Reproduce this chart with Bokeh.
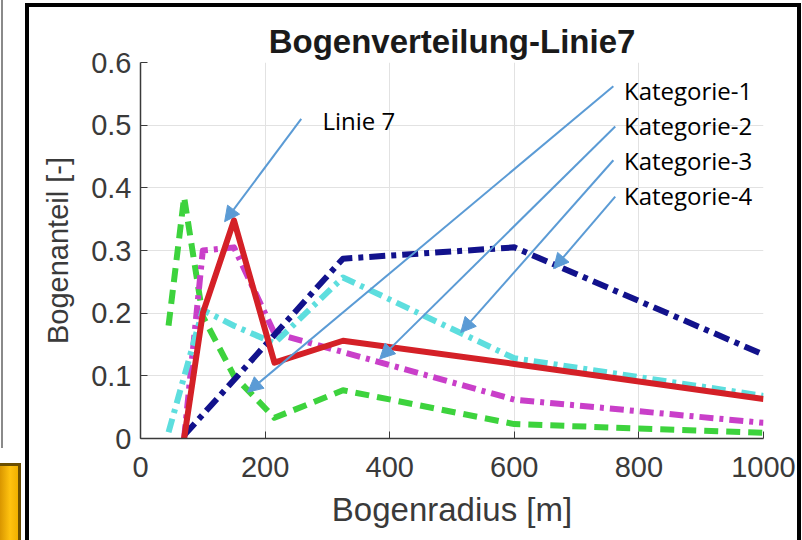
from bokeh.plotting import figure
from bokeh.models import Range1d, FixedTicker, Label, Arrow, NormalHead
from bokeh.embed import file_html
from bokeh.resources import INLINE

# ---------------- data ----------------
title_text = "Bogenverteilung-Linie7"
x_label = "Bogenradius [m]"
y_label = "Bogenanteil [-]"

radius = [45, 70, 100, 150, 215, 325, 600, 1000]
linie7 = [None, 0.0, 0.20, 0.348, 0.121, 0.156, 0.119, 0.063]
kategorie1 = [0.18, 0.385, 0.195, 0.10, 0.033, 0.077, 0.023, 0.009]
kategorie2 = [None, 0.0, 0.30, 0.305, 0.168, 0.138, 0.062, 0.025]
kategorie3 = [0.01, None, 0.205, 0.18, 0.152, 0.257, 0.128, 0.068]
kategorie4 = [None, 0.005, None, None, None, 0.287, 0.305, 0.134]

series_names = ["Linie 7", "Kategorie-1", "Kategorie-2", "Kategorie-3", "Kategorie-4"]

x_ticks = [0, 200, 400, 600, 800, 1000]
x_tick_labels = ["0", "200", "400", "600", "800", "1000"]
y_ticks = [0, 0.1, 0.2, 0.3, 0.4, 0.5, 0.6]
y_tick_labels = ["0", "0.1", "0.2", "0.3", "0.4", "0.5", "0.6"]

# ---------------- screenshot frame decorations (pure CSS, outside the plot) ----------------
frame_css = """
:host::after {
  content: "";
  position: absolute;
  left: 25px; top: 3px;
  width: 768px; height: 533px;
  border-left: 4px solid #000;
  border-top: 4px solid #000;
  border-right: 4px solid #000;
  pointer-events: none;
  z-index: 1000;
}
:host::before {
  content: "";
  position: absolute;
  left: 0; top: 0;
  width: 22px; height: 540px;
  background:
    linear-gradient(to right, #d99600, #ffc20f 55%, #f0b000) 0 466px / 18px 74px no-repeat,
    linear-gradient(#6b4e00, #6b4e00) 0 463px / 21px 77px no-repeat,
    linear-gradient(#8a8a8a, #8a8a8a) 1px 0 / 2px 448px no-repeat;
  pointer-events: none;
  z-index: 1000;
}
"""

# ---------------- figure ----------------
p = figure(width=802, height=540,
           x_range=Range1d(0, 1000), y_range=Range1d(0, 0.6),
           output_backend="svg", toolbar_location=None,
           min_border_left=140, min_border_right=39,
           min_border_top=62, min_border_bottom=102,
           stylesheets=[frame_css])
p.outline_line_color = None
p.background_fill_color = "white"
p.border_fill_color = "white"

axis_col = "#3a3a3a"
for ax in (p.xaxis[0], p.yaxis[0]):
    ax.major_tick_in = 7
    ax.major_tick_out = 0
    ax.minor_tick_line_color = None
    ax.axis_line_color = axis_col
    ax.major_tick_line_color = axis_col
    ax.axis_line_width = 1.5
    ax.major_label_text_font = "Liberation Sans"
    ax.major_label_text_font_size = "29px"
    ax.major_label_text_color = "#3a3a3a"
    ax.axis_label_text_font = "Liberation Sans"
    ax.axis_label_text_font_style = "normal"
    ax.axis_label_text_color = "#3a3a3a"
p.xaxis[0].axis_label_text_font_size = "33px"
p.yaxis[0].axis_label_text_font_size = "29px"

p.xaxis[0].ticker = FixedTicker(ticks=x_ticks)
p.xaxis[0].major_label_overrides = {t: l for t, l in zip(x_ticks, x_tick_labels)}
p.yaxis[0].ticker = FixedTicker(ticks=y_ticks)
p.yaxis[0].major_label_overrides = {t: l for t, l in zip(y_ticks, y_tick_labels)}
p.xaxis[0].axis_label = x_label
p.yaxis[0].axis_label = y_label
p.xaxis[0].major_label_standoff = 18
p.yaxis[0].major_label_standoff = 9
p.xaxis[0].axis_label_standoff = 11
p.yaxis[0].axis_label_standoff = 14

p.xgrid[0].ticker = FixedTicker(ticks=x_ticks)
p.ygrid[0].ticker = FixedTicker(ticks=y_ticks)
p.grid.grid_line_color = "#e2e2e2"
p.grid.grid_line_width = 1

p.title.text = title_text
p.title.align = "center"
p.title.text_font = "Liberation Sans"
p.title.text_font_style = "bold"
p.title.text_font_size = "33px"
p.title.text_color = "#1a1a1a"
p.title.standoff = 6

# ---------------- lines ----------------
styles = [
    (linie7, "#d42027", "solid"),
    (kategorie1, "#3dd33d", "14 8"),
    (kategorie2, "#c93fc9", "14 6 4 6"),
    (kategorie3, "#5ddede", "14 6 4 6"),
    (kategorie4, "#12128c", "16 6 5 6"),
]
draw_order = [1, 2, 3, 4, 0]
for i in draw_order:
    vals, col, dash = styles[i]
    xs = [x for x, v in zip(radius, vals) if v is not None]
    ys = [v for v in vals if v is not None]
    p.line(xs, ys, line_color=col, line_width=6, line_dash=dash, line_join="round")

# ---------------- annotations ----------------
arrow_col = "#5b9bd5"
label_pos = [
    (292, 0.508),
    (776, 0.556),
    (776, 0.500),
    (776, 0.444),
    (776, 0.388),
]
arrow_pos = [
    (258, 0.510, 135, 0.346),
    (759, 0.562, 172, 0.074),
    (762, 0.498, 384, 0.127),
    (759, 0.444, 514, 0.169),
    (762, 0.386, 663, 0.271),
]
for name, (lx, ly), (xs_, ys_, xe, ye) in zip(series_names, label_pos, arrow_pos):
    p.add_layout(Label(x=lx, y=ly, text=name, text_font="Open Sans",
                       text_font_size="24px", text_baseline="middle",
                       text_align="left", text_color="black"))
    p.add_layout(Arrow(end=NormalHead(size=15, fill_color=arrow_col, line_color=arrow_col, line_width=1),
                       x_start=xs_, y_start=ys_, x_end=xe, y_end=ye,
                       line_color=arrow_col, line_width=2))

open("out.html", "w").write(file_html(p, INLINE))
